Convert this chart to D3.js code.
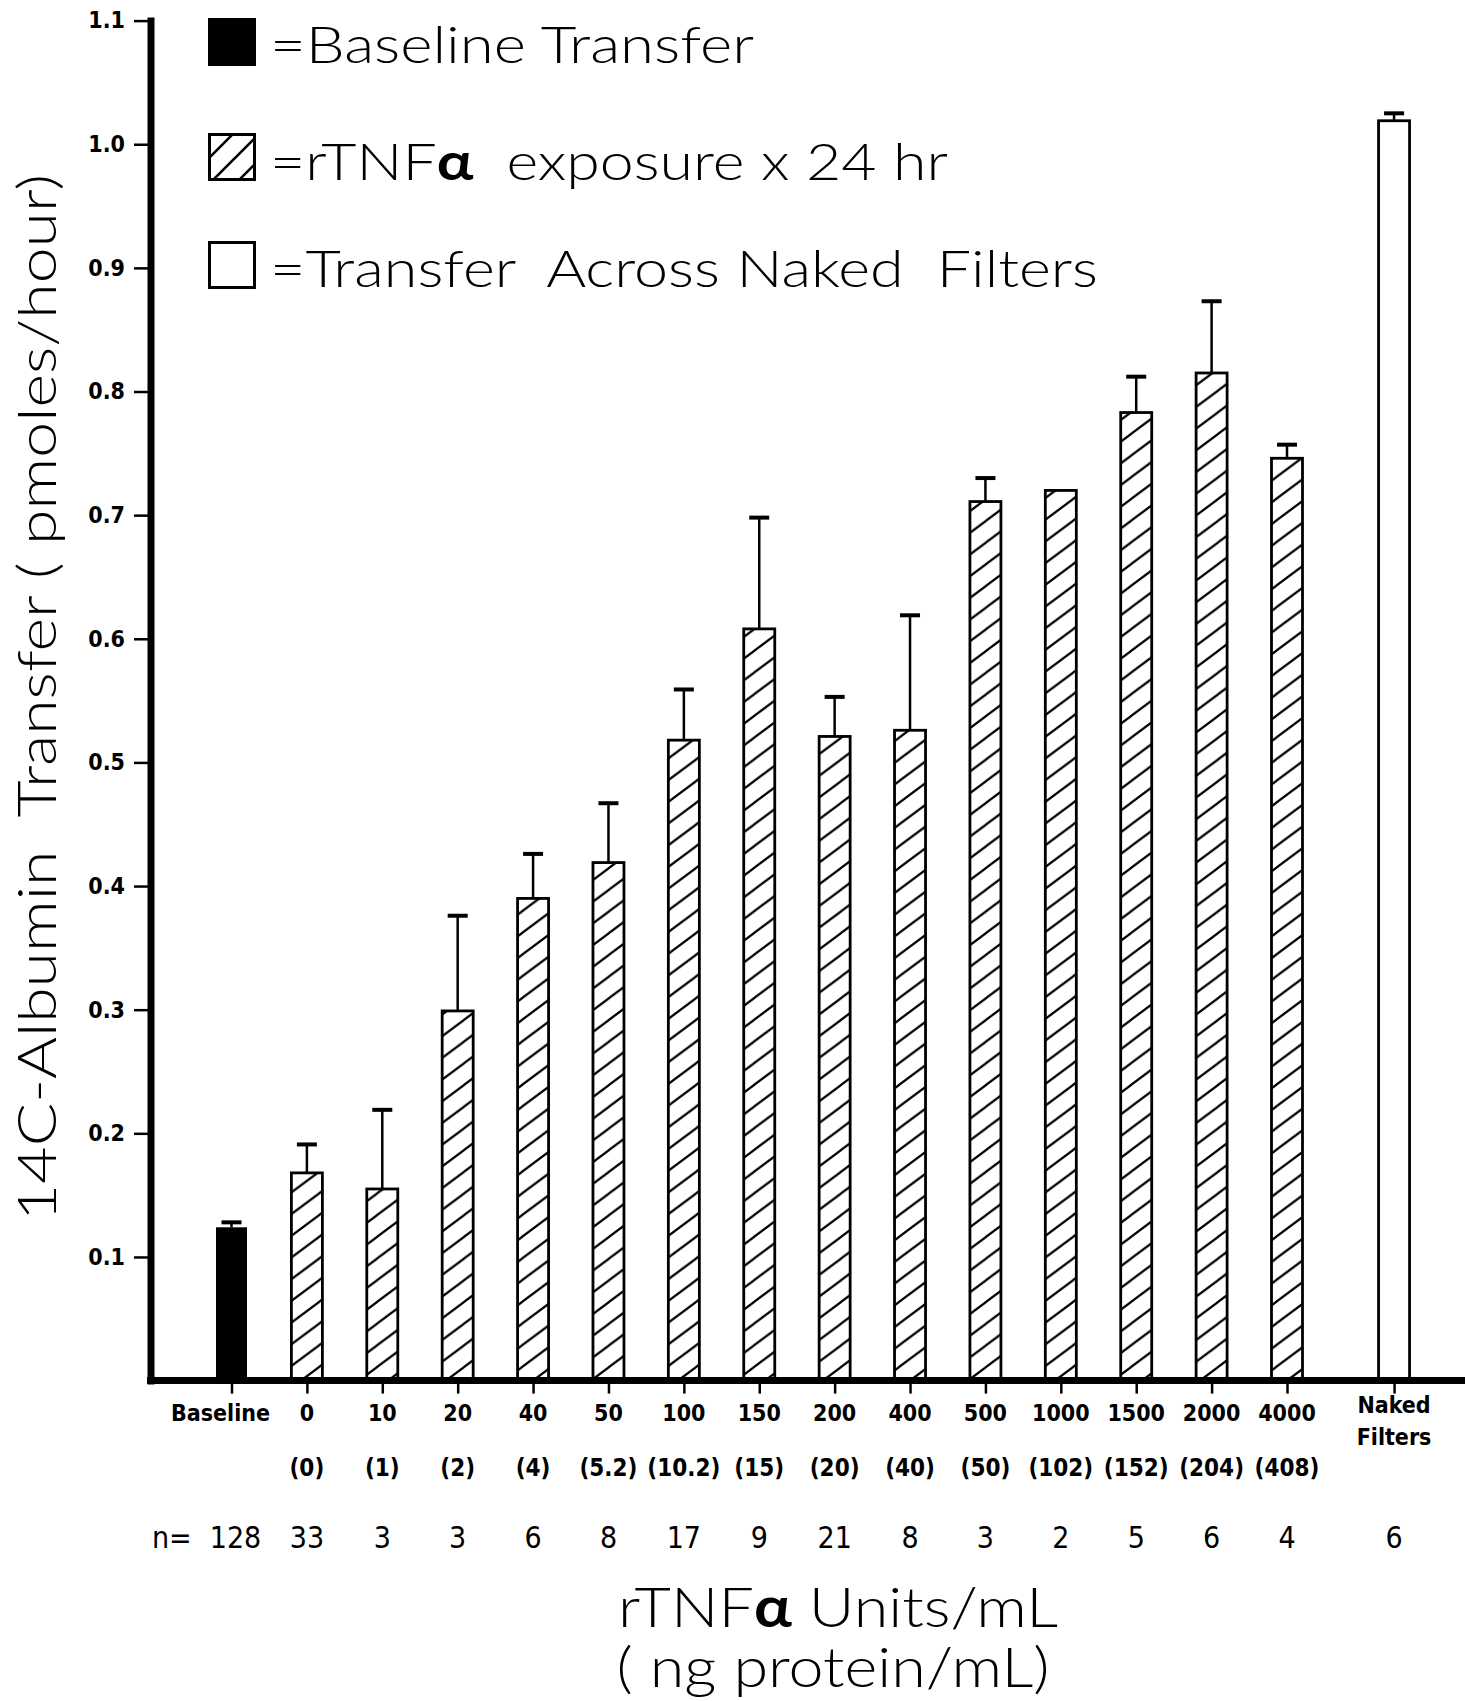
<!DOCTYPE html>
<html>
<head>
<meta charset="utf-8">
<script src="https://cdn.jsdelivr.net/npm/d3@7"></script>
<style>
  body { margin: 0; background: #fff; }
  svg { display: block; }
  .bold { font-family: "DejaVu Sans Condensed", "DejaVu Sans", sans-serif; font-weight: bold; }
  .thin { font-family: "Lato", "Roboto", "DejaVu Sans Condensed", sans-serif; font-weight: 300; }
  .mid { font-family: "DejaVu Sans Condensed", "DejaVu Sans", sans-serif; }
</style>
</head>
<body>
<svg id="chart" width="1465" height="1701"></svg>

<script>
var categories = ["Baseline", "0", "10", "20", "40", "50", "100", "150", "200", "400", "500", "1000", "1500", "2000", "4000", "Naked Filters"]
var doses = ["", "(0)", "(1)", "(2)", "(4)", "(5.2)", "(10.2)", "(15)", "(20)", "(40)", "(50)", "(102)", "(152)", "(204)", "(408)", ""]
var nCounts = [128, 33, 3, 3, 6, 8, 17, 9, 21, 8, 3, 2, 5, 6, 4, 6]
var means = [0.124, 0.168, 0.155, 0.299, 0.390, 0.419, 0.518, 0.608, 0.521, 0.526, 0.711, 0.720, 0.783, 0.815, 0.746, 1.019]
var sems = [0.004, 0.023, 0.064, 0.077, 0.036, 0.048, 0.041, 0.090, 0.032, 0.093, 0.019, 0, 0.029, 0.058, 0.011, 0.006]
var groups = ["baseline", "tnf", "tnf", "tnf", "tnf", "tnf", "tnf", "tnf", "tnf", "tnf", "tnf", "tnf", "tnf", "tnf", "tnf", "naked"]
var yTicks = [0.1, 0.2, 0.3, 0.4, 0.5, 0.6, 0.7, 0.8, 0.9, 1.0, 1.1]

var legendGroups = ["baseline", "tnf", "naked"]
var legendLabels = [["=Baseline Transfer"], ["=rTNF", "α", "  exposure x 24 hr"], ["=Transfer  Across Naked  Filters"]]

var nakedGap = 0.42   // extra space before the naked filters bar

var svg = d3.select('#chart')
var defs = svg.append('defs')

defs.append('pattern')
  .attr('id', 'hatch')
  .attr('patternUnits', 'userSpaceOnUse')
  .attr('width', 29).attr('height', 21.7)
  .append('path')
  .attr('d', 'M0,21.7 L29,0 M-7,5.4 L7,-5.4 M22,27.1 L36,16.3')
  .attr('stroke', 'black').attr('stroke-width', 2.2)

defs.append('pattern')
  .attr('id', 'hatchLegend')
  .attr('patternUnits', 'userSpaceOnUse')
  .attr('width', 26).attr('height', 26)
  .attr('x', 208).attr('y', 133)
  .append('path')
  .attr('d', 'M0,26 L26,0 M-6,6 L6,-6 M20,32 L32,20')
  .attr('stroke', 'black').attr('stroke-width', 2.6)

var y = d3.scaleLinear().domain([0, 1.1]).range([1380.6, 20.6])
var x = d3.scaleLinear().domain([0, 14]).range([231.5, 1287])

var rows = categories.map(function(c, i) {
  return {
    cat: c, dose: doses[i], n: nCounts[i], mean: means[i], sem: sems[i], group: groups[i],
    slot: i + (groups[i] == "naked" ? nakedGap : 0)
  }
})

function fillFor(g) {
  if (g == "baseline") return "black"
  if (g == "tnf") return "url(#hatch)"
  return "white"
}

// bars
var barW = 31
svg.append('g').selectAll('rect')
  .data(rows)
  .enter()
  .append('rect')
  .attr('x', function(d) { return x(d.slot) - barW / 2 })
  .attr('y', function(d) { return y(d.mean) })
  .attr('width', barW)
  .attr('height', function(d) { return y(0) - y(d.mean) })
  .attr('fill', function(d) { return fillFor(d.group) })
  .attr('stroke', 'black')
  .attr('stroke-width', function(d) { return d.group == "baseline" ? 0 : 2.8 })

// error bars (upper only)
var err = svg.append('g').selectAll('g')
  .data(rows.filter(function(d) { return d.sem > 0 }))
  .enter()
  .append('g')

err.append('line')
  .attr('x1', function(d) { return x(d.slot) })
  .attr('x2', function(d) { return x(d.slot) })
  .attr('y1', function(d) { return y(d.mean) })
  .attr('y2', function(d) { return y(d.mean + d.sem) })
  .attr('stroke', 'black').attr('stroke-width', 2.5)

err.append('line')
  .attr('x1', function(d) { return x(d.slot) - 10 })
  .attr('x2', function(d) { return x(d.slot) + 10 })
  .attr('y1', function(d) { return y(d.mean + d.sem) })
  .attr('y2', function(d) { return y(d.mean + d.sem) })
  .attr('stroke', 'black').attr('stroke-width', 4)

// y axis
var yAxis = svg.append('g')
  .attr('transform', 'translate(151,0)')
  .call(d3.axisLeft(y).tickValues(yTicks).tickSize(17).tickPadding(9).tickFormat(d3.format('.1f')))
yAxis.select('.domain').remove()
yAxis.selectAll('.tick line').attr('stroke', 'black').attr('stroke-width', 2.5)
yAxis.selectAll('.tick text')
  .attr('class', 'bold')
  .attr('font-size', 23)
  .attr('fill', 'black')

svg.append('line')
  .attr('x1', 151).attr('x2', 151)
  .attr('y1', y(1.1) - 3).attr('y2', y(0) + 4)
  .attr('stroke', 'black').attr('stroke-width', 7)

// x axis
var xAxis = svg.append('g')
  .attr('transform', 'translate(0,' + (y(0) + 3) + ')')
  .call(d3.axisBottom(x).tickValues(rows.map(function(d) { return d.slot })).tickSize(10).tickFormat(''))
xAxis.select('.domain').remove()
xAxis.selectAll('.tick line').attr('stroke', 'black').attr('stroke-width', 2.5)

svg.append('line')
  .attr('x1', 147).attr('x2', 1465)
  .attr('y1', y(0)).attr('y2', y(0))
  .attr('stroke', 'black').attr('stroke-width', 7)

// category labels
var catText = svg.append('g').selectAll('text')
  .data(rows)
  .enter()
  .append('text')
  .attr('class', 'bold')
  .attr('font-size', 23)
  .attr('text-anchor', 'middle')
  .attr('y', function(d) { return d.group == "naked" ? 1413 : 1421 })

catText.each(function(d) {
  var words = d.cat.split(' ')
  var t = d3.select(this)
  var shift = d.group == "baseline" ? -11 : 0
  words.forEach(function(w, k) {
    t.append('tspan')
      .attr('x', x(d.slot) + shift)
      .attr('dy', k == 0 ? 0 : 32)
      .text(w)
  })
})

svg.append('g').selectAll('text')
  .data(rows.filter(function(d) { return d.dose != "" }))
  .enter()
  .append('text')
  .attr('class', 'bold')
  .attr('font-size', 24)
  .attr('text-anchor', 'middle')
  .attr('x', function(d) { return x(d.slot) })
  .attr('y', 1476)
  .text(function(d) { return d.dose })

svg.append('text')
  .attr('class', 'mid')
  .attr('font-size', 30)
  .attr('x', 152).attr('y', 1548)
  .text('n=')

svg.append('g').selectAll('text')
  .data(rows)
  .enter()
  .append('text')
  .attr('class', 'mid')
  .attr('font-size', 30)
  .attr('text-anchor', 'middle')
  .attr('x', function(d) { return x(d.slot) + (d.n == 128 ? 4 : 0) })
  .attr('y', 1548)
  .text(function(d) { return d.n })

// legend
var legendY = [18, 133, 241]
var legendBase = [63, 180, 287]
var legendLen = [484, 678, 828]
legendGroups.forEach(function(g, i) {
  svg.append('rect')
    .attr('x', 209.5).attr('y', legendY[i] + 1.5)
    .attr('width', 45).attr('height', 45)
    .attr('fill', g == "tnf" ? "url(#hatchLegend)" : fillFor(g))
    .attr('stroke', 'black').attr('stroke-width', 3)

  var t = svg.append('text')
    .attr('class', 'thin')
    .attr('font-size', 52)
    .attr('x', 270).attr('y', legendBase[i])
    .attr('textLength', legendLen[i])
    .attr('lengthAdjust', 'spacingAndGlyphs')
    .style('white-space', 'pre')
  legendLabels[i].forEach(function(part) {
    t.append('tspan')
      .attr('font-weight', part == "α" ? "bold" : null)
      .text(part)
  })
})

// axis titles
svg.append('text')
  .attr('class', 'thin')
  .attr('font-size', 54)
  .attr('text-anchor', 'middle')
  .attr('transform', 'translate(56,697.5) rotate(-90)')
  .attr('textLength', 1047)
  .attr('lengthAdjust', 'spacingAndGlyphs')
  .style('white-space', 'pre')
  .text('14C-Albumin  Transfer ( pmoles/hour)')

var xt1 = svg.append('text')
  .attr('class', 'thin')
  .attr('font-size', 55)
  .attr('text-anchor', 'middle')
  .attr('x', 838).attr('y', 1627)
  .attr('textLength', 440)
  .attr('lengthAdjust', 'spacingAndGlyphs')
xt1.append('tspan').text('rTNF')
xt1.append('tspan').attr('font-weight', 'bold').text('α')
xt1.append('tspan').text(' Units/mL')

svg.append('text')
  .attr('class', 'thin')
  .attr('font-size', 55)
  .attr('text-anchor', 'middle')
  .attr('x', 833).attr('y', 1687)
  .attr('textLength', 433)
  .attr('lengthAdjust', 'spacingAndGlyphs')
  .text('( ng protein/mL)')
</script>
</body>
</html>
